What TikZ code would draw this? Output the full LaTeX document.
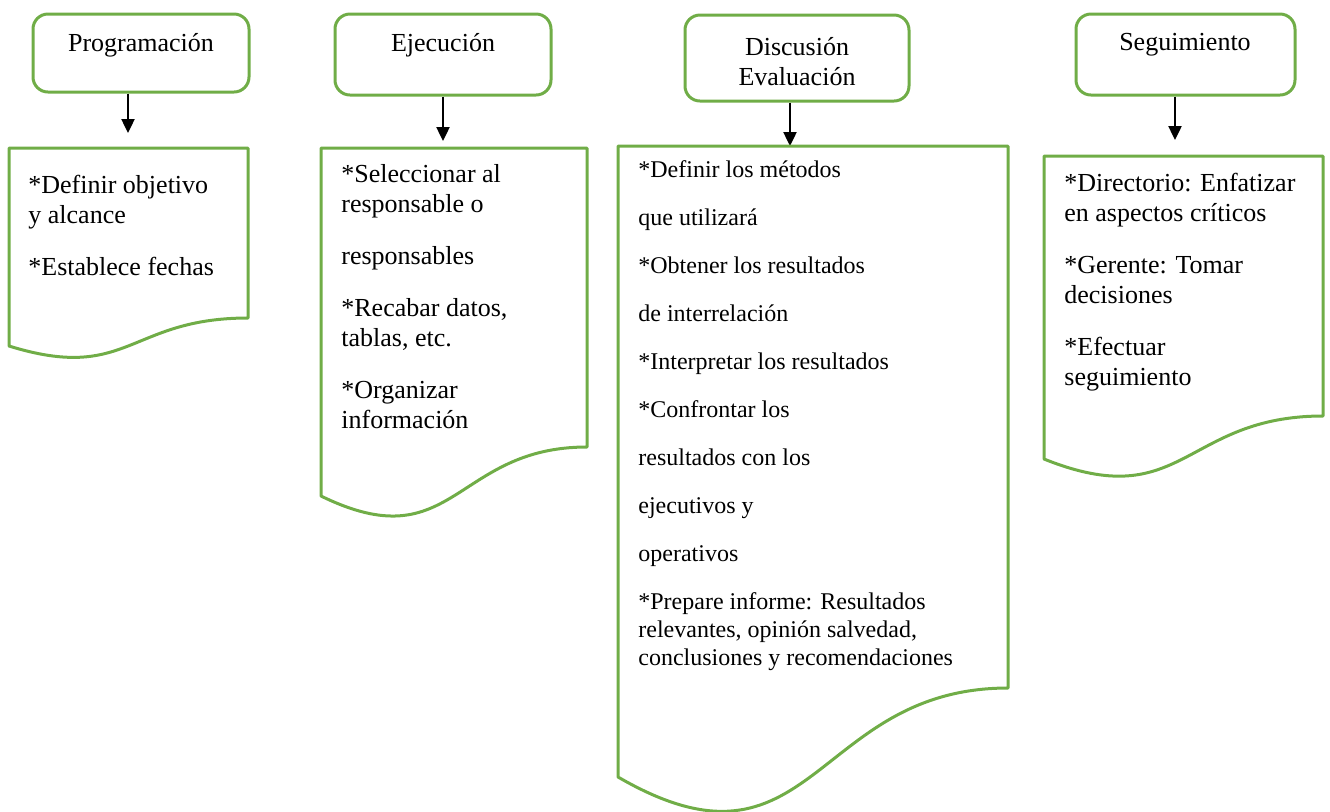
\documentclass[tikz,border=0pt]{standalone}
\usepackage{fontspec}
\setmainfont{Liberation Serif}
\usetikzlibrary{arrows.meta}
\definecolor{verde}{RGB}{112,173,71}
\tikzset{
    titulo/.style={draw=verde, line width=1.5pt, rounded corners=7.5pt, inner sep=0pt},
    rotulo/.style={font=\fontsize{13}{15}\selectfont, align=center, inner sep=0pt},
    hoja/.style={draw=verde, line width=1.5pt, line join=round},
    lista/.style={font=\fontsize{13}{15}\selectfont, align=left, anchor=base west, inner sep=0pt},
    flecha/.style={-{Triangle[length=7pt,width=6.5pt]}, line width=1.2pt},
}
\begin{document}
\begin{tikzpicture}[x=0.5pt,y=-0.5pt]
    \useasboundingbox (0,0) rectangle (1330,811);
    % cabeceras
    \node[titulo, minimum width=108pt, minimum height=39pt] (t1) at (141,53) {};
    \node[titulo, minimum width=108pt, minimum height=40.5pt] (t2) at (443,54.5) {};
    \node[titulo, minimum width=112pt, minimum height=43pt] (t3) at (797,58) {};
    \node[titulo, minimum width=109.5pt, minimum height=40.5pt] (t4) at (1185.5,54.5) {};
    \node[rotulo] (r1) at (141,45) {Programación};
    \node[rotulo] (r2) at (443,45) {Ejecución};
    \node[rotulo] (r3) at (797,62) {Discusión\\Evaluación};
    \node[rotulo] (r4) at (1185,45) {Seguimiento};
    % flechas
    \coordinate (a1) at (128,133);
    \coordinate (a2) at (443,141);
    \coordinate (a3) at (790,146);
    \coordinate (a4) at (1175,140);
    \draw[flecha] (t1.south -| a1) -- (a1);
    \draw[flecha] (t2.south -| a2) -- (a2);
    \draw[flecha] (t3.south -| a3) -- (a3);
    \draw[flecha] (t4.south -| a4) -- (a4);
    % documentos
    \draw[hoja] (9,148) -- (248,148) -- (248,318)
        .. controls (128.5,318) and (128.5,383) .. (9,346) -- cycle;
    \draw[hoja] (321,148) -- (587,148) -- (587,447)
        .. controls (454,447) and (454,561) .. (321,496) -- cycle;
    \draw[hoja] (618,146) -- (1008,146) -- (1008,688)
        .. controls (813,688) and (813,890) .. (618,777) -- cycle;
    \draw[hoja] (1044,156) -- (1323,156) -- (1323,416)
        .. controls (1183.5,416) and (1183.5,515) .. (1044,459) -- cycle;
    % textos (base = ultima linea)
    \node[lista] (p1) at (28,275) {*Definir objetivo\\y alcance\\[11pt]*Establece fechas};
    \node[lista] (p2) at (341,428) {*Seleccionar al\\responsable o\\[11pt]responsables\\[11pt]*Recabar datos,\\tablas, etc.\\[11pt]*Organizar\\información};
    \node[lista, font=\fontsize{12}{14}\selectfont] (p3) at (638,665) {*Definir los métodos\\[10pt]que utilizará\\[10pt]*Obtener los resultados\\[10pt]de interrelación\\[10pt]*Interpretar los resultados\\[10pt]*Confrontar los\\[10pt]resultados con los\\[10pt]ejecutivos y\\[10pt]operativos\\[10pt]*Prepare informe: Resultados\\relevantes, opinión salvedad,\\conclusiones y recomendaciones};
    \node[lista] (p4) at (1064,385) {*Directorio: Enfatizar\\en aspectos críticos\\[11pt]*Gerente: Tomar\\decisiones\\[11pt]*Efectuar\\seguimiento};
\end{tikzpicture}
\end{document}
